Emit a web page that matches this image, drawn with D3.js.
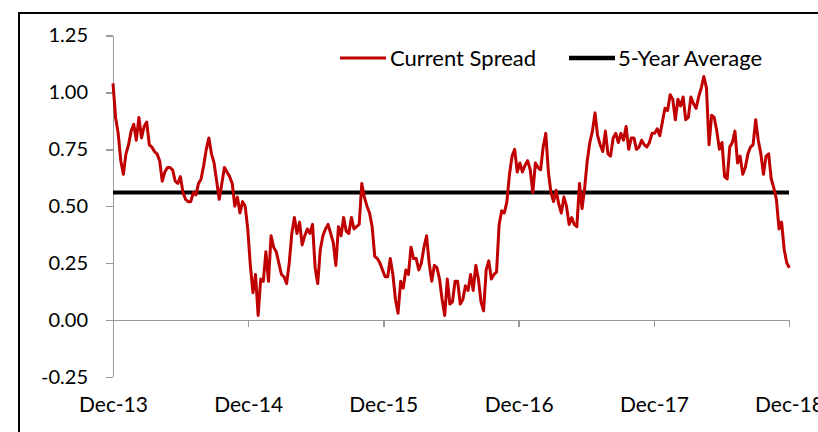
<!DOCTYPE html>
<html lang="en">
<head>
<meta charset="utf-8">
<title>Current Spread vs 5-Year Average</title>
<script src="https://cdn.jsdelivr.net/npm/d3@7"></script>
<style>
  body { margin: 0; background: #fff; }
  text { font-family: Lato, "Open Sans", sans-serif; fill: #000; }
  .axis path, .axis line { stroke: #9a9a9a; stroke-width: 1.5; shape-rendering: crispEdges; }
</style>
</head>
<body>
<svg width="818" height="432"></svg>
<script>

// weekly readings, starting 31 Dec 2013
var startDate = "2013-12-31";
var spread = [
  1.04, 0.89, 0.82, 0.70, 0.64, 0.73, 0.77, 0.83, 0.86, 0.79,
  0.89, 0.80, 0.85, 0.87, 0.77, 0.76, 0.74, 0.73, 0.70, 0.61,
  0.65, 0.67, 0.67, 0.66, 0.61, 0.60, 0.63, 0.56, 0.53, 0.52,
  0.52, 0.56, 0.55, 0.60, 0.62, 0.68, 0.75, 0.80, 0.73, 0.69,
  0.61, 0.53, 0.60, 0.67, 0.65, 0.63, 0.60, 0.50, 0.54, 0.47,
  0.52, 0.50, 0.40, 0.24, 0.12, 0.20, 0.02, 0.18, 0.17, 0.30,
  0.17, 0.37, 0.32, 0.30, 0.25, 0.20, 0.19, 0.16, 0.25, 0.38,
  0.45, 0.38, 0.43, 0.33, 0.37, 0.40, 0.38, 0.42, 0.23, 0.16,
  0.31, 0.37, 0.40, 0.42, 0.38, 0.34, 0.24, 0.41, 0.37, 0.45,
  0.39, 0.38, 0.45, 0.40, 0.41, 0.42, 0.60, 0.54, 0.50, 0.47,
  0.41, 0.28, 0.27, 0.25, 0.22, 0.19, 0.19, 0.27, 0.20, 0.09,
  0.03, 0.17, 0.14, 0.22, 0.20, 0.32, 0.27, 0.27, 0.22, 0.25,
  0.32, 0.37, 0.25, 0.17, 0.24, 0.23, 0.18, 0.09, 0.02, 0.18,
  0.07, 0.08, 0.17, 0.17, 0.07, 0.09, 0.15, 0.13, 0.20, 0.13,
  0.24, 0.18, 0.08, 0.04, 0.22, 0.26, 0.18, 0.20, 0.21, 0.42,
  0.48, 0.47, 0.52, 0.64, 0.72, 0.75, 0.65, 0.69, 0.65, 0.68,
  0.70, 0.66, 0.56, 0.69, 0.67, 0.66, 0.76, 0.82, 0.65, 0.56,
  0.52, 0.57, 0.51, 0.47, 0.54, 0.50, 0.42, 0.45, 0.42, 0.41,
  0.60, 0.49, 0.58, 0.70, 0.78, 0.83, 0.91, 0.81, 0.77, 0.74,
  0.83, 0.73, 0.72, 0.80, 0.82, 0.78, 0.82, 0.79, 0.85, 0.75,
  0.80, 0.80, 0.75, 0.76, 0.79, 0.77, 0.76, 0.78, 0.82, 0.82,
  0.84, 0.81, 0.87, 0.93, 0.92, 0.99, 0.97, 0.88, 0.97, 0.94,
  0.98, 0.88, 0.89, 0.98, 0.95, 0.93, 0.98, 1.02, 1.07, 1.02,
  0.77, 0.90, 0.89, 0.83, 0.75, 0.78, 0.63, 0.62, 0.76, 0.78,
  0.83, 0.69, 0.72, 0.64, 0.67, 0.73, 0.76, 0.77, 0.88, 0.79,
  0.73, 0.64, 0.72, 0.73, 0.62, 0.58, 0.53, 0.40, 0.43, 0.31,
  0.25, 0.23
];
var fiveYearAvg = 0.56;
var tickDates = ["2013-12-31", "2014-12-31", "2015-12-31", "2016-12-31", "2017-12-31", "2018-12-31"];
var yTicks = [-0.25, 0, 0.25, 0.5, 0.75, 1.0, 1.25];
var seriesNames = ["Current Spread", "5-Year Average"];
var seriesColors = ["#c00000", "#000000"];

var parse = d3.timeParse("%Y-%m-%d");
var start = parse(startDate);
var data = spread.map(function(v, i) {
  return { date: d3.timeDay.offset(start, 7 * i), value: v };
});

var svg = d3.select("svg");

// outer frame (cut off on the right and bottom)
svg.append("rect")
    .attr("x", 19).attr("y", 13)
    .attr("width", 830).attr("height", 440)
    .attr("fill", "none")
    .attr("stroke", "#000")
    .attr("stroke-width", 2);

var x = d3.scaleTime()
    .domain([parse(tickDates[0]), parse(tickDates[tickDates.length - 1])])
    .range([113, 789]);

var y = d3.scaleLinear()
    .domain([-0.25, 1.25])
    .range([376.9, 35.5]);

// y axis
svg.append("g")
    .attr("class", "axis axis--y")
    .attr("transform", "translate(113,0)")
    .call(d3.axisLeft(y).tickValues(yTicks).tickSize(7).tickSizeOuter(0).tickPadding(18)
      .tickFormat(function(d) { return d.toFixed(2); }))
  .selectAll("text")
    .style("font-size", "20px");

// x axis sits at zero
svg.append("g")
    .attr("class", "axis axis--x")
    .attr("transform", "translate(0," + y(0) + ")")
    .call(d3.axisBottom(x).tickValues(tickDates.map(parse)).tickSize(7).tickSizeOuter(0).tickPadding(70)
      .tickFormat(d3.timeFormat("%b-%y")))
  .selectAll("text")
    .style("font-size", "21px");

// 5-year average
svg.append("line")
    .attr("x1", x.range()[0]).attr("x2", x.range()[1])
    .attr("y1", y(fiveYearAvg)).attr("y2", y(fiveYearAvg))
    .attr("stroke", seriesColors[1])
    .attr("stroke-width", 4);

// current spread
var line = d3.line()
    .x(function(d) { return x(d.date); })
    .y(function(d) { return y(d.value); });

svg.append("path")
    .datum(data)
    .attr("fill", "none")
    .attr("stroke", seriesColors[0])
    .attr("stroke-width", 3)
    .attr("stroke-linejoin", "round")
    .attr("d", line);

// legend
var legendX = [340, 569];
var legend = svg.selectAll(".legend")
    .data(seriesNames)
    .enter().append("g")
    .attr("class", "legend")
    .attr("transform", function(d, i) { return "translate(" + legendX[i] + ",58)"; });

legend.append("line")
    .attr("x1", 0).attr("x2", 46)
    .attr("stroke", function(d, i) { return seriesColors[i]; })
    .attr("stroke-width", function(d, i) { return i ? 4.5 : 3; });

legend.append("text")
    .attr("x", function(d, i) { return i ? 49 : 50; })
    .attr("dy", "0.35em")
    .style("font-size", "22px")
    .text(function(d) { return d; });

</script>
</body>
</html>
